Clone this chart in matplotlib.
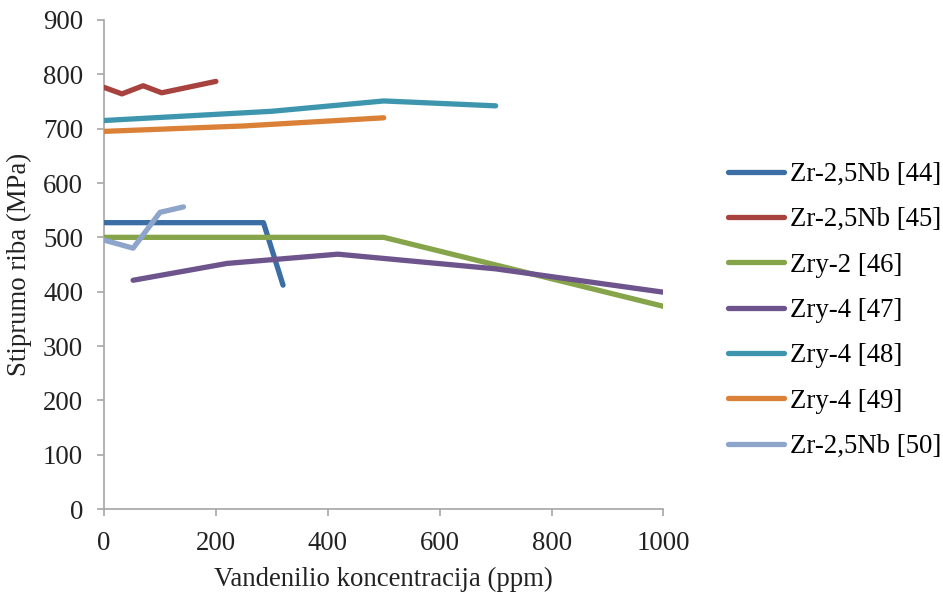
import matplotlib.pyplot as plt

plt.rcParams['font.family'] = ['Liberation Serif', 'DejaVu Serif']

# Vandenilio koncentracija (ppm) vs stiprumo riba (MPa)
x44 = [0, 285, 320]
y44 = [527, 527, 412]
x45 = [0, 32, 70, 103, 200]
y45 = [776, 764, 779, 766, 787]
x46 = [0, 250, 500, 1000]
y46 = [500, 500, 500, 373]
x47 = [52, 220, 418, 700, 1000]
y47 = [421, 452, 469, 442, 399]
x48 = [0, 300, 500, 700]
y48 = [715, 732, 751, 742]
x49 = [0, 250, 500]
y49 = [695, 705, 720]
x50 = [0, 52, 100, 142]
y50 = [495, 480, 546, 556]

labels = ['Zr-2,5Nb [44]', 'Zr-2,5Nb [45]', 'Zry-2 [46]', 'Zry-4 [47]',
          'Zry-4 [48]', 'Zry-4 [49]', 'Zr-2,5Nb [50]']
colors = ['#3A6EA5', '#A8423F', '#86A44A', '#6E548D', '#3D96AE', '#DA8137', '#8EA5CB']

fs = 19.3
fig = plt.figure(figsize=(9.43, 5.95), dpi=100)
ax = fig.add_axes([0.1103, 0.1445, 0.5933, 0.8219])

series = [(x44, y44), (x45, y45), (x46, y46), (x47, y47), (x48, y48), (x49, y49), (x50, y50)]
for (xs, ys), lab, c in zip(series, labels, colors):
    ax.plot(xs, ys, color=c, lw=3.8, label=lab, solid_capstyle='round', solid_joinstyle='round')

ax.set_xlim(0, 1000)
ax.set_ylim(0, 900)
ax.set_xticks(range(0, 1001, 200))
ax.set_yticks(range(0, 901, 100))

for s in ['top', 'right']:
    ax.spines[s].set_visible(False)
for s in ['left', 'bottom']:
    ax.spines[s].set_color('#A6A6A6')
    ax.spines[s].set_linewidth(1.2)
ax.spines['left'].set_zorder(0)
ax.tick_params(axis='both', colors='#A6A6A6', labelcolor='#222222', labelsize=fs, length=5, width=1.2)
ax.tick_params(axis='y', pad=10)
ax.tick_params(axis='x', pad=11)

ax.set_xlabel('Vandenilio koncentracija (ppm)', fontsize=fs, color='#222222', labelpad=8)
ax.set_ylabel('Stiprumo riba (MPa)', fontsize=fs, color='#222222', labelpad=8)

fig.legend(loc='center left', bbox_to_anchor=(0.772, 0.478), frameon=False, fontsize=fs,
           handlelength=2.1, handletextpad=0.2, labelspacing=0.76, borderpad=0, borderaxespad=0)

fig.savefig('out.png', dpi=100)
